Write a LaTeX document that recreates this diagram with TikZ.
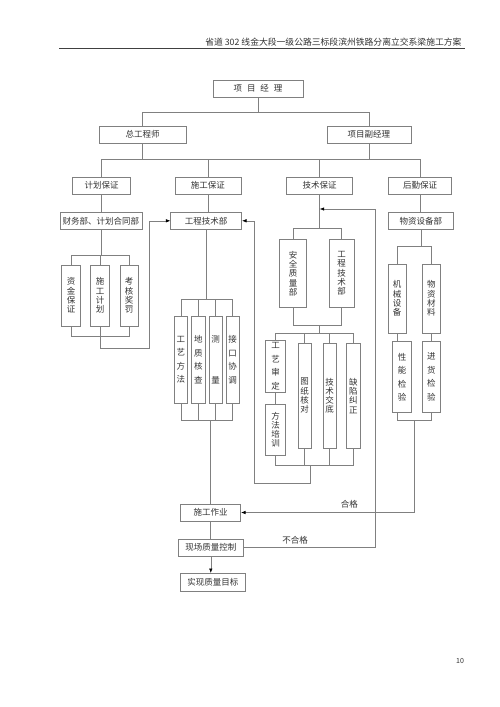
\documentclass[tikz,border=0pt]{standalone}
\usepackage{fontspec}
\setmainfont{Noto Sans CJK SC}
\usepackage{tikz}
\usetikzlibrary{arrows.meta}
\usetikzlibrary{positioning}
\tikzset{
    line/.style={draw=black!50, line width=0.6pt},
    arrow/.style={line, -{Latex[length=4.5pt,width=3.5pt,color=black]}},
    box/.style = {
      rectangle,
      draw=black!50,
      line width=0.6pt,
      inner sep=0pt,
      text=black!80,
      font=\fontsize{8.5}{10}\selectfont
    },
    vbox/.style = {
      box,
      align=center,
      font=\fontsize{8.5}{9.3}\selectfont
    },
    loosevbox/.style = {
      box,
      align=center,
      font=\fontsize{8.5}{13.5}\selectfont
    },
    flowtext/.style={text=black!80, font=\fontsize{8.5}{10}\selectfont},
}

\begin{document}
\begin{tikzpicture}[x=1pt, y=-1pt]
      \path[use as bounding box, fill=white] (0,0) rectangle (500,707);

      % page header
      \node[flowtext, anchor=base east, font=\fontsize{8.8}{10}\selectfont] (title) at (465,45.5)
        {省道 302 线金大段一级公路三标段滨州铁路分离立交系梁施工方案};
      \draw[black!75, line width=0.8pt] (59,48.5) -- (465,48.5);

      % levels
      \coordinate (bar1) at (0,112.3);
      \coordinate (bar2) at (0,159.3);

      \node [box, minimum width=90pt, minimum height=17pt] (manager) at (258,88.7)
        {项\hspace{5pt}目\hspace{5pt}经\hspace{5pt}理};
      \node [box, minimum width=87pt, minimum height=17pt] (chief) at (142.7,134.7) {总工程师};
      \node [box, minimum width=84pt, minimum height=17pt] (deputy) at (368.8,134.7) {项目副经理};

      \node [box, minimum width=58pt, minimum height=17pt] (planguarantee) at (101.7,185.7) {计划保证};
      \node [box, minimum width=66pt, minimum height=17pt] (buildguarantee) at (207.8,185.7) {施工保证};
      \node [box, minimum width=66pt, minimum height=17pt] (techguarantee) at (319.7,185.7) {技术保证};
      \node [box, minimum width=63pt, minimum height=17pt] (logisticsguarantee) at (420,185.7) {后勤保证};

      \draw[line] (manager.south) -- (manager.south |- bar1);
      \draw[line] (chief.north) -- (chief.north |- bar1) -| (deputy.north);
      \draw[line] (chief.south) -- (chief.south |- bar2);
      \draw[line] (deputy.south) -- (deputy.south |- bar2);
      \draw[line] (planguarantee.north) -- (planguarantee.north |- bar2) -| (logisticsguarantee.north);
      \draw[line] (buildguarantee.north) -- (buildguarantee.north |- bar2);
      \draw[line] (techguarantee.north) -- (techguarantee.north |- bar2);

      % departments
      \node [box, minimum width=82pt, minimum height=17pt] (finance) at (100.8,220.8) {财务部、计划合同部};
      \node [box, minimum width=71pt, minimum height=17pt] (engineering) at (206.2,220.8) {工程技术部};
      \node [box, minimum width=65pt, minimum height=17pt] (materials) at (420.8,220.8) {物资设备部};

      \draw[line] (planguarantee.south) -- (planguarantee.south |- finance.north);
      \draw[line] (buildguarantee.south) -- (buildguarantee.south |- engineering.north);
      \draw[line] (logisticsguarantee.south) -- (logisticsguarantee.south |- materials.north);

      % planning branch
      \coordinate (b255) at (0,255);
      \coordinate (b337) at (0,336.7);
      \coordinate (finloop) at (149.3,348.3);
      \node [vbox, minimum width=19pt, minimum height=61pt] (funds) at (71.2,295.5) {资\\金\\保\\证};
      \node [vbox, minimum width=18.6pt, minimum height=61pt] (schedule) at (100,295.5) {施\\工\\计\\划};
      \node [vbox, minimum width=18.3pt, minimum height=61pt] (assessment) at (129.2,295.5) {考\\核\\奖\\罚};

      \draw[line] (finance.south) -- (finance.south |- b255);
      \draw[line] (funds.north) -- (funds.north |- b255) -| (assessment.north);
      \draw[line] (schedule.north) -- (schedule.north |- b255);
      \draw[line] (funds.south) -- (funds.south |- b337) -| (assessment.south);
      \draw[arrow] (schedule.south) |- (finloop) |- (engineering.west);

      % construction branch
      \coordinate (b299) at (0,299);
      \coordinate (b420) at (0,420);
      \node [loosevbox, minimum width=13.2pt, minimum height=87pt] (process) at (180.9,359.7) {工\\艺\\方\\法};
      \node [loosevbox, minimum width=13.3pt, minimum height=87pt] (geology) at (198.3,359.7) {地\\质\\核\\查};
      \node [loosevbox, minimum width=13.3pt, minimum height=87pt] (survey) at (215.7,359.7) {测\\ \\ \\量};
      \node [loosevbox, minimum width=13.3pt, minimum height=87pt] (interface) at (232.7,359.7) {接\\口\\协\\调};

      \draw[line] (engineering.south) -- (engineering.south |- b299);
      \draw[line] (process.north) -- (process.north |- b299) -| (interface.north);
      \draw[line] (geology.north) -- (geology.north |- b299);
      \draw[line] (survey.north) -- (survey.north |- b299);
      \draw[line] (process.south) -- (process.south |- b420) -| (interface.south);
      \draw[line] (geology.south) -- (geology.south |- b420);
      \draw[line] (survey.south) -- (survey.south |- b420);

      % technical branch
      \coordinate (b228) at (0,228.3);
      \coordinate (b325) at (0,325);
      \coordinate (b333) at (0,333);
      \coordinate (b466) at (0,465.7);
      \node [vbox, minimum width=27.4pt, minimum height=68.4pt] (safety) at (293,273.5) {安\\全\\质\\量\\部};
      \node [vbox, minimum width=25.3pt, minimum height=68.4pt] (techdept) at (341.7,273.5) {工\\程\\技\\术\\部};

      \draw[line] (techguarantee.south) -- (techguarantee.south |- b228);
      \draw[line] (safety.north) -- (safety.north |- b228) -| (techdept.north);
      \draw[line] (safety.south) -- (safety.south |- b325) -| (techdept.south);
      \draw[line] (techguarantee.south |- b325) -- (techguarantee.south |- b333);

      \node [loosevbox, minimum width=20pt, minimum height=52.7pt] (approval) at (275.7,366.3) {工\\艺\\审\\定};
      \node [vbox, minimum width=20pt, minimum height=50.7pt] (training) at (275.7,429.7) {方\\法\\培\\训};
      \node [vbox, minimum width=12.7pt, minimum height=105pt] (drawings) at (304.7,395.8) {图\\纸\\核\\对};
      \node [vbox, minimum width=12.7pt, minimum height=105pt] (briefing) at (329.7,395.8) {技\\术\\交\\底};
      \node [vbox, minimum width=13.3pt, minimum height=105pt] (defects) at (353.3,395.8) {缺\\陷\\纠\\正};

      \draw[line] (approval.north) -- (approval.north |- b333) -| (defects.north);
      \draw[line] (drawings.north) -- (drawings.north |- b333);
      \draw[line] (briefing.north) -- (briefing.north |- b333);
      \draw[line] (approval) -- (training);
      \draw[line] (training.south) -- (training.south |- b466) -| (defects.south);
      \draw[line] (drawings.south) -- (drawings.south |- b466);
      \draw[line] (briefing.south) -- (briefing.south |- b466);

      \coordinate (techloop) at (310,483.3);
      \coordinate (techrise) at (254,483.3);
      \draw[arrow] (techloop |- b466) -- (techloop) -- (techrise) |- (engineering.east);

      % logistics branch
      \coordinate (b247) at (0,246.7);
      \node [vbox, minimum width=17.7pt, minimum height=69.3pt] (machinery) at (397.2,298.7) {机\\械\\设\\备};
      \node [vbox, minimum width=17.3pt, minimum height=69.3pt] (supplies) at (431.3,298.7) {物\\资\\材\\料};
      \node [loosevbox, minimum width=19pt, minimum height=70.6pt] (performance) at (402.2,377) {性\\能\\检\\验};
      \node [loosevbox, minimum width=17.3pt, minimum height=70.6pt] (incoming) at (431.3,377) {进\\货\\检\\验};

      \draw[line] (materials.south) -- (materials.south |- b247);
      \draw[line] (machinery.north) -- (machinery.north |- b247) -| (supplies.north);
      \draw[line] (machinery.south) -- (machinery.south |- performance.north);
      \draw[line] (supplies) -- (incoming);
      \draw[line] (machinery.south |- performance.south) -- (machinery.south |- b420) -| (incoming.south);

      % site work
      \node [box, minimum width=60pt, minimum height=17pt] (works) at (210.7,512.5) {施工作业};
      \node [box, minimum width=65pt, minimum height=17pt] (control) at (210.8,547.5) {现场质量控制};
      \node [box, minimum width=64.3pt, minimum height=17.7pt] (goal) at (212.8,582.2) {实现质量目标};

      \draw[line] (works.north |- b420) -- (works.north);
      \draw[line] (works.south) -- (works.south |- control.north);
      \draw[arrow] (control.south) -- (control.south |- goal.north);

      \coordinate (passdrop) at (414.3,420);
      \draw[arrow] (passdrop) |- (works.east);
      \node [flowtext] (pass) at (349.3,504) {合格};

      \coordinate (failcorner) at (375,547.5);
      \coordinate (failtop) at (375,209);
      \draw[arrow] (control.east) -- (failcorner) -- (failtop) -- (techguarantee.south |- failtop);
      \node [flowtext] (fail) at (295,540) {不合格};

      \node [flowtext, font=\fontsize{7}{8}\selectfont] (pagenumber) at (460,661) {10};
\end{tikzpicture}
\end{document}
